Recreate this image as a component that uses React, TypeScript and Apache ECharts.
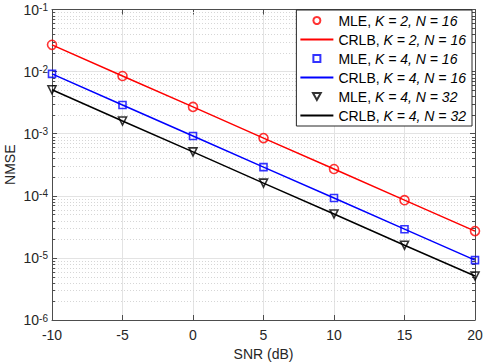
import React, { useEffect, useRef } from "react";
import * as echarts from "echarts";

const snr = [-10, -5, 0, 5, 10, 15, 20];
const mleK2N16 = [0.027, 0.0085, 0.0027, 0.00085, 0.00027, 0.000085, 0.000027];
const crlbK2N16 = [0.027, 0.0085, 0.0027, 0.00085, 0.00027, 0.000085, 0.000027];
const mleK4N16 = [0.0092, 0.0029, 0.00092, 0.00029, 0.000092, 0.000029, 0.0000092];
const crlbK4N16 = [0.0092, 0.0029, 0.00092, 0.00029, 0.000092, 0.000029, 0.0000092];
const mleK4N32 = [0.0051, 0.0016, 0.00051, 0.00016, 0.000051, 0.000016, 0.0000051];
const crlbK4N32 = [0.0051, 0.0016, 0.00051, 0.00016, 0.000051, 0.000016, 0.0000051];
const legendNames = [
  "MLE, K = 2, N = 16",
  "CRLB, K = 2, N = 16",
  "MLE, K = 4, N = 16",
  "CRLB, K = 4, N = 16",
  "MLE, K = 4, N = 32",
  "CRLB, K = 4, N = 32",
];
const decades = [-6, -5, -4, -3, -2];
const minorSteps = [2, 3, 4, 5, 6, 7, 8, 9];

const FONT = "'Liberation Sans', Arial, Helvetica, sans-serif";
const TXT = "#262626";
const AXIS = "#4d4d4d";
const GRID = "#e3e3e3";
const SQUARE = "path://M0,0 L10,0 L10,10 L0,10 Z";
const TRI_DOWN = "path://M0,0 L10,0 L5,9 Z";

export default function App() {
  const ref = useRef<HTMLDivElement>(null);
  useEffect(() => {
    if (!ref.current) return;
    const chart = echarts.init(ref.current, undefined, { renderer: "svg" });
    const pairs = (ys: number[]) => snr.map((x, i) => [x, ys[i]]);
    const minorData: number[][] = [];
    decades.forEach((d) => minorSteps.forEach((k) => minorData.push([-10, k * Math.pow(10, d)])));
    const xMin = snr[0];
    const xMax = snr[snr.length - 1];

    const lineSeries = (name: string, ys: number[], color: string) => ({
      name,
      type: "line",
      data: pairs(ys),
      symbol: "none",
      showSymbol: false,
      lineStyle: { color, width: 1.5 },
      itemStyle: { color },
      z: 3,
    });
    const markerSeries = (name: string, ys: number[], color: string, symbol: string, size: number) => ({
      name,
      type: "scatter",
      data: pairs(ys),
      symbol,
      symbolSize: size,
      itemStyle: { color: "rgba(255,255,255,0)", borderColor: color, borderWidth: 1.6 },
      z: 4,
    });

    const legendIcons = ["circle", null, SQUARE, null, TRI_DOWN, null];

    chart.setOption({
      animation: false,
      backgroundColor: "#ffffff",
      textStyle: { fontFamily: FONT },
      grid: { left: 52, right: 10, top: 9.5, bottom: 43, outerBoundsMode: "none", containLabel: false },
      legend: {
        data: legendNames.map((n, i) =>
          legendIcons[i] ? { name: n, icon: legendIcons[i] } : { name: n, itemStyle: { opacity: 0 } }
        ),
        orient: "vertical",
        right: 13,
        top: 10,
        itemWidth: 33,
        itemHeight: 7,
        itemGap: 4,
        symbolKeepAspect: true,
        padding: [3, 6, 3, 3],
        backgroundColor: "#ffffff",
        borderColor: "#262626",
        borderWidth: 1,
        borderRadius: 0,
        align: "left",
        selectedMode: false,
        formatter: (name: string) => name.replace(/(K = \d+, N = \d+)/, "{i|$1}"),
        textStyle: {
          fontSize: 14,
          color: "#000",
          fontFamily: FONT,
          lineHeight: 15,
          rich: { i: { fontStyle: "italic", fontSize: 14, color: "#000", fontFamily: FONT, lineHeight: 15 } },
        },
      },
      xAxis: [
        {
          type: "value",
          min: -10,
          max: 20,
          interval: 5,
          name: "SNR (dB)",
          nameLocation: "middle",
          nameGap: 27,
          nameTextStyle: { fontSize: 14, color: TXT, fontFamily: FONT },
          axisLine: { show: true, onZero: false, lineStyle: { color: AXIS, width: 1 } },
          axisTick: { show: true, inside: true, length: 5, lineStyle: { color: AXIS } },
          axisLabel: { fontSize: 14, color: TXT, margin: 8, fontFamily: FONT },
          splitLine: { show: true, lineStyle: { color: GRID, width: 1 } },
        },
        {
          type: "value",
          position: "top",
          min: -10,
          max: 20,
          interval: 5,
          axisLine: { show: true, onZero: false, lineStyle: { color: AXIS, width: 1 } },
          axisTick: { show: true, inside: true, length: 5, lineStyle: { color: AXIS } },
          axisLabel: { show: false },
          splitLine: { show: false },
        },
      ],
      yAxis: [
        {
          type: "log",
          logBase: 10,
          min: 1e-6,
          max: 1e-1,
          name: "NMSE",
          nameLocation: "middle",
          nameGap: 35,
          nameMoveOverlap: false,
          nameTextStyle: { fontSize: 14, lineHeight: 14, color: TXT, fontFamily: FONT },
          axisLine: { show: true, onZero: false, lineStyle: { color: AXIS, width: 1 } },
          axisTick: { show: true, inside: true, length: 5, lineStyle: { color: AXIS } },
          axisLabel: {
            fontSize: 14,
            color: TXT,
            margin: 4,
            showMinLabel: true,
            showMaxLabel: true,
            fontFamily: FONT,
            formatter: (v: number) => `10{sup|${Math.round(Math.log10(v))}}`,
            rich: {
              sup: { fontSize: 10, color: TXT, verticalAlign: "top", lineHeight: 8, padding: [0, 0, 6, 0], fontFamily: FONT },
            },
          },
          splitLine: { show: true, lineStyle: { color: GRID, width: 1 } },
        },
        {
          type: "log",
          logBase: 10,
          min: 1e-6,
          max: 1e-1,
          position: "right",
          axisLine: { show: true, onZero: false, lineStyle: { color: AXIS, width: 1 } },
          axisTick: { show: true, inside: true, length: 5, lineStyle: { color: AXIS } },
          axisLabel: { show: false },
          splitLine: { show: false },
        },
      ],
      series: [
        {
          name: "minor-grid",
          type: "custom",
          silent: true,
          xAxisIndex: 0,
          yAxisIndex: 0,
          data: minorData,
          encode: { x: 0, y: 1 },
          z: 1,
          renderItem: (params: any, api: any) => {
            const v = api.value(1);
            const p1 = api.coord([xMin, v]);
            const p2 = api.coord([xMax, v]);
            const y = Math.round(p1[1]) + 0.5;
            return {
              type: "group",
              children: [
                {
                  type: "line",
                  shape: { x1: p1[0], y1: y, x2: p2[0], y2: y },
                  style: { stroke: "#d6d6d6", lineWidth: 1, lineDash: [1, 2] },
                },
                {
                  type: "line",
                  shape: { x1: p1[0], y1: y, x2: p1[0] + 3, y2: y },
                  style: { stroke: AXIS, lineWidth: 1 },
                },
                {
                  type: "line",
                  shape: { x1: p2[0] - 3, y1: y, x2: p2[0], y2: y },
                  style: { stroke: AXIS, lineWidth: 1 },
                },
              ],
            };
          },
        },
        markerSeries(legendNames[0], mleK2N16, "#ff0000", "circle", 9),
        lineSeries(legendNames[1], crlbK2N16, "#ff0000"),
        markerSeries(legendNames[2], mleK4N16, "#0000ff", "rect", 7),
        lineSeries(legendNames[3], crlbK4N16, "#0000ff"),
        markerSeries(legendNames[4], mleK4N32, "#000000", TRI_DOWN, 8),
        lineSeries(legendNames[5], crlbK4N32, "#000000"),
      ],
    });
    return () => chart.dispose();
  }, []);
  return (
    <div
      ref={ref}
      style={{ position: "fixed", left: 0, top: 0, width: 485, height: 363, background: "#fff" }}
    />
  );
}
